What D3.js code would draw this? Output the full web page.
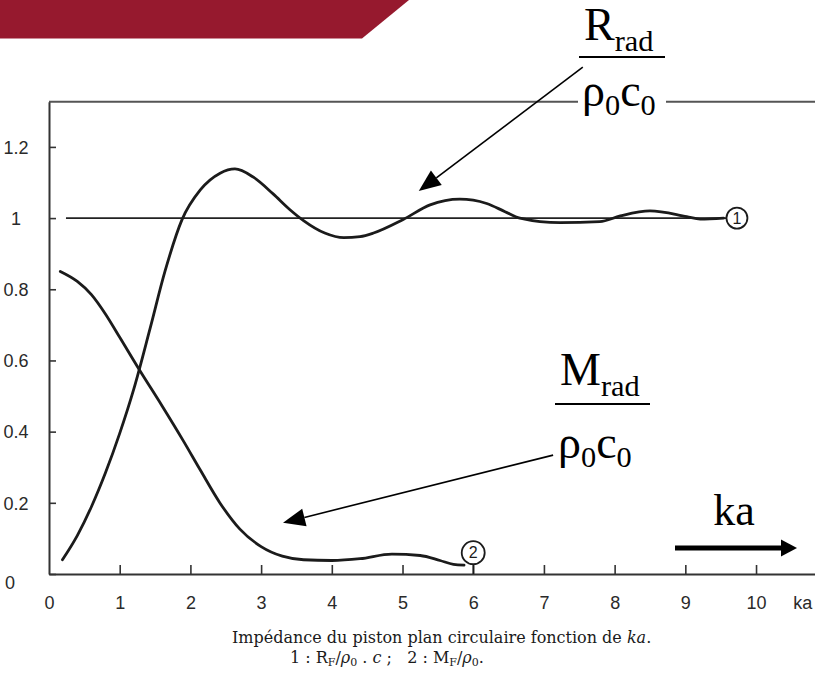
<!DOCTYPE html>
<html><head><meta charset="utf-8">
<script src="https://cdn.jsdelivr.net/npm/d3@7"></script>
<style>body{margin:0;background:#fff}svg{display:block}</style>
</head><body>
<svg id="chart" width="815" height="681"></svg>
<script>
// Axis ticks
const xTickValues = [0, 1, 2, 3, 4, 5, 6, 7, 8, 9, 10];
const xTickLabels = ["0", "1", "2", "3", "4", "5", "6", "7", "8", "9", "10"];
const yTickValues = [0, 0.2, 0.4, 0.6, 0.8, 1, 1.2];
const yTickLabels = ["0", "0.2", "0.4", "0.6", "0.8", "1", "1.2"];

// Curve 1: radiation resistance R_rad / ρ0c0 against ka
const resistanceKa  = [0.19, 0.4, 0.6, 0.8, 1.0, 1.2, 1.43, 1.64, 1.88, 2.14, 2.42, 2.63, 2.89, 3.17, 3.4, 3.6, 3.9, 4.17, 4.4, 4.59, 5.01, 5.39, 5.81, 6.19, 6.45, 6.66, 7.23, 7.79, 8.08, 8.5, 9.02, 9.21, 9.54];
const resistanceVal = [0.04, 0.108, 0.189, 0.285, 0.395, 0.52, 0.69, 0.85, 0.995, 1.079, 1.126, 1.138, 1.115, 1.068, 1.025, 0.993, 0.958, 0.945, 0.948, 0.958, 0.996, 1.037, 1.053, 1.041, 1.018, 1.0, 0.987, 0.99, 1.006, 1.02, 1.004, 0.997, 1.0];

// Curve 2: radiation mass M_rad / ρ0c0 against ka
const massKa  = [0.16, 0.4, 0.6, 0.8, 1.0, 1.28, 1.6, 1.9, 2.14, 2.42, 2.7, 3.0, 3.3, 3.6, 4.0, 4.4, 4.85, 5.25, 5.53, 5.72, 5.87];
const massVal = [0.85, 0.822, 0.785, 0.73, 0.665, 0.573, 0.472, 0.374, 0.292, 0.199, 0.126, 0.077, 0.05, 0.04, 0.038, 0.043, 0.056, 0.052, 0.038, 0.027, 0.025];

// Asymptote and curve-number tags
const asymptote = 1;
const asymptoteStart = 0.24;
const curveTags = [
  { label: "1", ka: 9.73, value: 1.0, stem: false },
  { label: "2", ka: 6.0, value: 0.06, stem: true }
];

const svg = d3.select("#chart");
const W = 815, H = 681;

const x = d3.scaleLinear().domain([0, 10.834]).range([49, 815]);
const y = d3.scaleLinear().domain([0, 1.327]).range([574, 101.7]);

const ink = "#1b1b1b";
const axisInk = "#333";
const sans = "'Liberation Sans Narrow', 'Liberation Sans', Arial, sans-serif";
const serif = "'Liberation Serif', 'Times New Roman', serif";

// Banner across the top-left corner
svg.append("path")
  .attr("d", "M0,0 L409,0 L362,38.5 L0,38.5 Z")
  .attr("fill", "#96192e");

// Frame line along the top of the plot
svg.append("line")
  .attr("x1", x(0)).attr("x2", W)
  .attr("y1", y.range()[1]).attr("y2", y.range()[1])
  .attr("stroke", "#555").attr("stroke-width", 2);

// Y axis with inward ticks
const yAxis = d3.axisLeft(y)
  .tickValues(yTickValues)
  .tickFormat((d, i) => yTickLabels[i])
  .tickSizeInner(-7).tickSizeOuter(0).tickPadding(20);
const gy = svg.append("g").attr("transform", `translate(${x(0)},0)`).call(yAxis);
gy.select(".domain").attr("stroke", axisInk).attr("stroke-width", 2);
gy.selectAll(".tick line").attr("stroke", axisInk).attr("stroke-width", 1.6);
gy.selectAll(".tick text")
  .attr("fill", "#2a2a2a")
  .attr("font-family", sans)
  .attr("font-size", 18)
  .attr("text-anchor", "middle")
  .attr("x", d => d === 0 ? -39 : -33)
  .attr("dy", d => d === 0 ? "0.8em" : "0.35em");

// X axis with inward ticks
const xAxis = d3.axisBottom(x)
  .tickValues(xTickValues)
  .tickFormat((d, i) => xTickLabels[i])
  .tickSizeInner(-9).tickSizeOuter(0).tickPadding(22);
const gx = svg.append("g").attr("transform", `translate(0,${y(0)})`).call(xAxis);
gx.select(".domain").attr("stroke", axisInk).attr("stroke-width", 2);
gx.selectAll(".tick line").attr("stroke", axisInk).attr("stroke-width", 1.6)
  .filter(d => d === 0).remove();
gx.selectAll(".tick text")
  .attr("fill", "#2a2a2a")
  .attr("font-family", sans)
  .attr("font-size", 18);
svg.append("text")
  .attr("x", x(10.66)).attr("y", y(0) + 22).attr("dy", "0.71em")
  .attr("text-anchor", "middle")
  .attr("fill", "#2a2a2a")
  .attr("font-family", sans)
  .attr("font-size", 18)
  .text("ka");

// Asymptote at 1
const tag1 = curveTags[0];
svg.append("line")
  .attr("x1", x(asymptoteStart)).attr("x2", x(tag1.ka) - 10)
  .attr("y1", y(asymptote)).attr("y2", y(asymptote))
  .attr("stroke", "#222").attr("stroke-width", 1.6);

// Curves
const line = d3.line()
  .x(d => x(d[0])).y(d => y(d[1]))
  .curve(d3.curveMonotoneX);

svg.append("path")
  .attr("d", line(resistanceKa.map((k, i) => [k, resistanceVal[i]])))
  .attr("fill", "none").attr("stroke", ink).attr("stroke-width", 2.8)
  .attr("stroke-linecap", "round");
svg.append("path")
  .attr("d", line(massKa.map((k, i) => [k, massVal[i]])))
  .attr("fill", "none").attr("stroke", ink).attr("stroke-width", 2.8)
  .attr("stroke-linecap", "round");

// Numbered tags at the ends of the curves
curveTags.forEach(t => {
  const cx = x(t.ka), cy = y(t.value), r = t.stem ? 11.5 : 10.5;
  if (t.stem) {
    svg.append("line")
      .attr("x1", cx).attr("x2", cx).attr("y1", cy + r).attr("y2", y(0))
      .attr("stroke", ink).attr("stroke-width", 1.6);
  }
  svg.append("circle").attr("cx", cx).attr("cy", cy).attr("r", r)
    .attr("fill", "#fff").attr("stroke", ink).attr("stroke-width", 1.8);
  svg.append("text").attr("x", cx).attr("y", cy).attr("dy", "0.36em")
    .attr("text-anchor", "middle")
    .attr("font-family", "'Liberation Sans', Arial, sans-serif")
    .attr("font-size", 16).attr("fill", ink)
    .text(t.label);
});

// Arrow helper (thin shaft with filled head)
function arrow(x1, y1, x2, y2, w, headLen, headHalf) {
  const a = Math.atan2(y2 - y1, x2 - x1);
  const bx = x2 - headLen * Math.cos(a), by = y2 - headLen * Math.sin(a);
  svg.append("line").attr("x1", x1).attr("y1", y1).attr("x2", bx).attr("y2", by)
    .attr("stroke", "#000").attr("stroke-width", w);
  const px = -Math.sin(a) * headHalf, py = Math.cos(a) * headHalf;
  svg.append("path")
    .attr("d", `M${x2},${y2}L${bx + px},${by + py}L${bx - px},${by - py}Z`)
    .attr("fill", "#000");
}

// Fraction label: numerator letter with "rad" subscript over ρ0c0
function fraction(left, numBase, barY, denBase, letter, big, barW) {
  const num = svg.append("text").attr("x", left + 5).attr("y", numBase)
    .attr("font-family", serif).attr("font-size", big).attr("fill", "#000");
  num.append("tspan").text(letter);
  num.append("tspan").attr("font-size", big * 0.66).attr("dy", big * 0.24).text("rad");
  svg.append("line").attr("x1", left).attr("x2", left + barW)
    .attr("y1", barY).attr("y2", barY).attr("stroke", "#000").attr("stroke-width", 2.2);
  const den = svg.append("text").attr("x", left + 3).attr("y", denBase)
    .attr("font-family", serif).attr("font-size", big).attr("fill", "#000");
  den.append("tspan").text("ρ");
  den.append("tspan").attr("font-size", big * 0.66).attr("dy", big * 0.2).text("0");
  den.append("tspan").attr("dy", -big * 0.2).text("c");
  den.append("tspan").attr("font-size", big * 0.66).attr("dy", big * 0.2).text("0");
}

// Resistance label sits over the top frame line
svg.append("rect").attr("x", 578).attr("y", 88).attr("width", 88).attr("height", 30).attr("fill", "#fff");
arrow(x(7.55), y(1.424), x(5.23), y(1.076), 1.6, 22, 9);
fraction(579, 40, 57, 106, "R", 46, 86);

// Mass label
arrow(x(7.13), y(0.334), x(3.31), y(0.144), 1.6, 22, 9);
fraction(555, 385, 404, 458, "M", 46, 95);

// ka direction arrow
svg.append("text").attr("x", 734).attr("y", 525).attr("text-anchor", "middle")
  .attr("font-family", serif).attr("font-size", 44).attr("fill", "#000").text("ka");
arrow(675, 548, 797, 548, 5, 16, 8.5);

// Caption
const capFont = "'DejaVu Serif', 'Liberation Serif', serif";
const cap1 = svg.append("text").attr("x", 232).attr("y", 643)
  .attr("font-family", capFont).attr("font-size", 16).attr("fill", "#1a1a1a");
cap1.append("tspan").text("Impédance du piston plan circulaire fonction de ");
cap1.append("tspan").attr("font-style", "italic").text("ka");
cap1.append("tspan").text(".");

const cap2 = svg.append("text").attr("x", 290).attr("y", 663)
  .attr("font-family", capFont).attr("font-size", 16).attr("fill", "#1a1a1a")
  .style("white-space", "pre");
const sub = (t) => {
  cap2.append("tspan").attr("font-size", 11).attr("dy", 3).text(t);
};
cap2.append("tspan").text("1 : R");
sub("F");
cap2.append("tspan").attr("dy", -3).text("/");
cap2.append("tspan").attr("font-style", "italic").text("ρ");
sub("0");
cap2.append("tspan").attr("dy", -3).text(" . ");
cap2.append("tspan").attr("font-style", "italic").text("c");
cap2.append("tspan").text(" ;   2 : M");
sub("F");
cap2.append("tspan").attr("dy", -3).text("/");
cap2.append("tspan").attr("font-style", "italic").text("ρ");
sub("0");
cap2.append("tspan").attr("dy", -3).text(".");
</script>
</body></html>
